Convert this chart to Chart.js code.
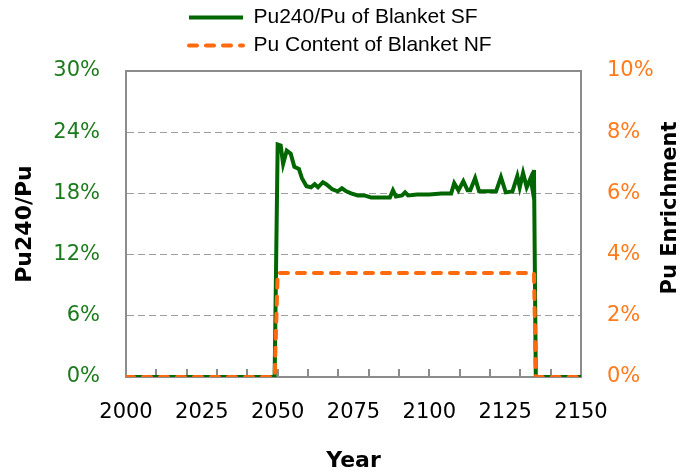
<!DOCTYPE html>
<html><head><meta charset="utf-8">
<script src="https://cdn.jsdelivr.net/npm/chart.js@4"></script>
<style>html,body{margin:0;padding:0;background:#fff}#wrap{width:681px;height:474px}</style>
</head><body><div id="wrap"><canvas id="c" width="681" height="474"></canvas></div>
<script>
// ---- data ----
const seriesNames = ['Pu240/Pu of Blanket SF', 'Pu Content of Blanket NF'];
const axisTitles = { x: 'Year', left: 'Pu240/Pu', right: 'Pu Enrichment' };

const pu240Years = [2000, 2049, 2050, 2051, 2051.8, 2053, 2054.3, 2055.5, 2057, 2058, 2059.5, 2061, 2062.2, 2063.3,
  2064.9, 2066, 2068, 2069.8, 2071.2, 2072.6, 2074.2, 2076.4, 2078.6, 2080.8, 2083, 2085, 2087, 2088, 2089,
  2091, 2092, 2093, 2096, 2100, 2104, 2107.2, 2108.2, 2109.6, 2111.2, 2112.6, 2113.5, 2115.1, 2116.4, 2122,
  2123.6, 2125.2, 2127.4, 2129, 2129.8, 2130.9, 2132.1, 2133.4, 2133.9, 2134.5, 2135.1, 2150];
const pu240Values = [0, 0, 22.8, 22.7, 20.9, 22.2, 21.9, 20.6, 20.4, 19.5, 18.7, 18.6, 18.9, 18.6,
  19.1, 18.9, 18.4, 18.2, 18.5, 18.2, 18.0, 17.8, 17.8, 17.6, 17.6, 17.6, 17.6, 18.3, 17.7,
  17.8, 18.1, 17.8, 17.9, 17.9, 18.0, 18.0, 19.0, 18.3, 19.2, 18.3, 18.3, 19.5, 18.2, 18.2,
  19.6, 18.1, 18.2, 19.7, 18.6, 20.0, 18.6, 19.5, 18.6, 20.3, 0, 0];

const puContentYears = [2000, 2049, 2050, 2134.5, 2135.1, 2150];
const puContentValues = [0, 0, 3.4, 3.4, 0, 0];

const xMajorTicks = [2000, 2025, 2050, 2075, 2100, 2125, 2150];
const xMinorTicks = [2010, 2020, 2030, 2040, 2050, 2060, 2070, 2080, 2090, 2100, 2110, 2120, 2130, 2140];
const leftTicks = [0, 6, 12, 18, 24, 30];
const rightTicks = [0, 2, 4, 6, 8, 10];

// ---- styles ----
const GREEN = '#006600';
const ORANGE = '#FF6A0E';
const AXIS = '#8C8C8C';
const GRID = '#9E9E9E';
const TICK_FONT = { family: 'DejaVu Sans', size: 21 };
const TITLE_FONT = { family: 'DejaVu Sans', size: 22, weight: 'bold' };

const toPoints = (xs, ys) => xs.map((x, i) => ({ x: x, y: ys[i] }));

const chartDecor = {
  id: 'chartDecor',
  afterLayout(chart) {
    const lg = chart.legend;
    if (lg) {
      const w = lg.right - lg.left;
      lg.left = 182; lg.right = lg.left + w;
      const h = lg.bottom - lg.top;
      lg.top -= 5; lg.bottom = lg.top + h;
    }
  },
  beforeDatasetsDraw(chart) {
    const { ctx, chartArea: a, scales } = chart;
    ctx.save();
    ctx.strokeStyle = AXIS;
    ctx.lineWidth = 2;
    ctx.beginPath();
    xMinorTicks.forEach(v => {
      const px = Math.round(scales.x.getPixelForValue(v));
      ctx.moveTo(px, a.bottom);
      ctx.lineTo(px, a.bottom - 8);
    });
    ctx.moveTo(a.left, a.top);
    ctx.lineTo(a.right, a.top);
    ctx.stroke();
    ctx.restore();
  },
  afterDraw(chart) {
    const { ctx, chartArea: a } = chart;
    ctx.save();
    ctx.translate(671, (a.top + a.bottom) / 2 - 16);
    ctx.rotate(-Math.PI / 2);
    ctx.font = 'bold 21px "DejaVu Sans"';
    ctx.fillStyle = '#000';
    ctx.textAlign = 'center';
    ctx.textBaseline = 'middle';
    ctx.fillText(axisTitles.right, 0, 0);
    ctx.restore();
  }
};

new Chart(document.getElementById('c'), {
  type: 'line',
  data: {
    datasets: [
      {
        label: seriesNames[0],
        data: toPoints(pu240Years, pu240Values),
        yAxisID: 'y',
        borderColor: GREEN,
        backgroundColor: GREEN,
        borderWidth: 4,
        pointRadius: 0,
        tension: 0,
        order: 2
      },
      {
        label: seriesNames[1],
        data: toPoints(puContentYears, puContentValues),
        yAxisID: 'yR',
        borderColor: ORANGE,
        backgroundColor: ORANGE,
        borderWidth: 4,
        borderDash: [8, 9],
        borderCapStyle: 'round',
        pointRadius: 0,
        tension: 0,
        order: 1
      }
    ]
  },
  options: {
    responsive: false,
    devicePixelRatio: 1,
    animation: false,
    layout: { padding: { top: 5, left: 0, right: 0, bottom: 0 } },
    plugins: {
      tooltip: { enabled: false },
      legend: {
        position: 'top',
        fullSize: false,
        align: 'start',
        labels: {
          usePointStyle: true,
          pointStyle: 'line',
          pointStyleWidth: 54,
          padding: 7,
          color: '#000',
          font: { family: 'Liberation Sans', size: 21 },
          sort: (a, b) => a.datasetIndex - b.datasetIndex,
          generateLabels: (chart) => {
            const items = Chart.defaults.plugins.legend.labels.generateLabels(chart);
            return items.map(it => {
              const ds = chart.data.datasets[it.datasetIndex];
              it.lineDash = ds.borderDash || [];
              it.lineCap = ds.borderCapStyle || 'butt';
              it.lineWidth = ds.borderWidth;
              it.strokeStyle = ds.borderColor;
              return it;
            });
          }
        }
      }
    },
    scales: {
      x: {
        type: 'linear',
        min: 2000, max: 2150,
        afterBuildTicks: s => { s.ticks = xMajorTicks.map(v => ({ value: v })); },
        ticks: { color: '#000', font: TICK_FONT, padding: 23, maxRotation: 0, callback: v => String(v) },
        grid: { display: false, drawTicks: false },
        border: { display: true, color: AXIS, width: 2 },
        title: { display: true, text: axisTitles.x, color: '#000', font: TITLE_FONT, padding: { top: 0, bottom: 0 } },
        afterFit: s => { s.height = 97; }
      },
      y: {
        position: 'left',
        min: 0, max: 30,
        afterBuildTicks: s => { s.ticks = leftTicks.map(v => ({ value: v })); },
        ticks: { color: '#1B7A1B', font: TICK_FONT, padding: 26, callback: v => v + '%' },
        grid: { color: GRID, lineWidth: 1, drawTicks: false },
        border: { display: true, color: AXIS, width: 2, dash: [7, 4] },
        title: { display: true, text: axisTitles.left, color: '#000', font: TITLE_FONT, padding: { top: 12, bottom: 0 } },
        afterFit: s => { s.width = 126; }
      },
      yR: {
        position: 'right',
        min: 0, max: 10,
        afterBuildTicks: s => { s.ticks = rightTicks.map(v => ({ value: v })); },
        ticks: { color: '#FF7A1C', font: TICK_FONT, padding: 26, callback: v => v + '%' },
        grid: { drawOnChartArea: false, drawTicks: false },
        border: { display: true, color: AXIS, width: 2 },
        afterFit: s => { s.width = 100; }
      }
    }
  },
  plugins: [chartDecor]
});
</script>
</body></html>
